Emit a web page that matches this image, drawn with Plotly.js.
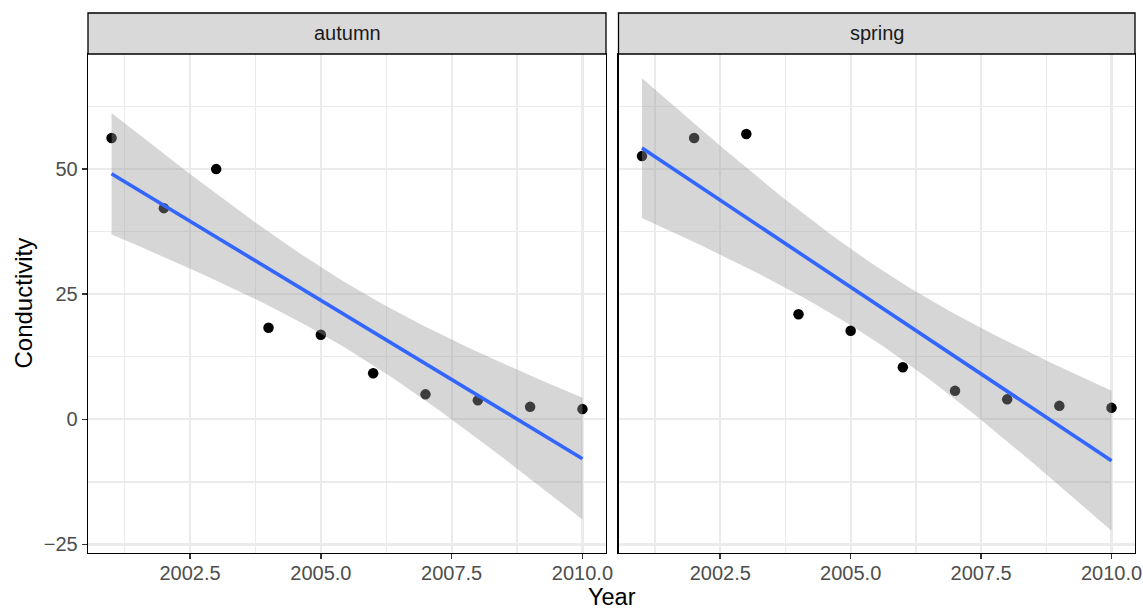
<!DOCTYPE html>
<html>
<head>
<meta charset="utf-8">
<script src="https://cdn.plot.ly/plotly-3.0.1.min.js"></script>
<style>html,body{margin:0;padding:0;background:#fff;}#chart{width:1143px;height:612px;}</style>
</head>
<body>
<div id="chart"></div>
<script>
// ---- data ----
const years = [2001, 2002, 2003, 2004, 2005, 2006, 2007, 2008, 2009, 2010];
const autumn = [56.2, 42.2, 50.0, 18.3, 16.9, 9.2, 5.0, 3.8, 2.5, 2.05];
const spring = [52.6, 56.2, 57.0, 21.0, 17.7, 10.4, 5.7, 4.0, 2.7, 2.3];
const seasons = ['autumn', 'spring'];
const xTickVals = [2002.5, 2005.0, 2007.5, 2010.0];
const xTickText = ['2002.5', '2005.0', '2007.5', '2010.0'];
const xMinorVals = [2001.25, 2003.75, 2006.25, 2008.75];
const yTickVals = [-25, 0, 25, 50];
const yTickText = ['\u221225', '0', '25', '50'];
const yMinorVals = [-12.5, 12.5, 37.5, 62.5];

// linear model fit with 95% confidence band (as geom_smooth(method = "lm"))
function lmFit(x, y, nOut) {
  const n = x.length;
  const mx = x.reduce((a, b) => a + b, 0) / n;
  const my = y.reduce((a, b) => a + b, 0) / n;
  let sxx = 0, sxy = 0;
  for (let i = 0; i < n; i++) { sxx += (x[i] - mx) ** 2; sxy += (x[i] - mx) * (y[i] - my); }
  const b = sxy / sxx, a = my - b * mx;
  let sse = 0;
  for (let i = 0; i < n; i++) sse += (y[i] - (a + b * x[i])) ** 2;
  const s = Math.sqrt(sse / (n - 2));
  const t = 2.306004; // qt(0.975, df = 8)
  const xs = [], fit = [], lo = [], hi = [];
  const x0 = Math.min(...x), x1 = Math.max(...x);
  for (let k = 0; k < nOut; k++) {
    const xv = x0 + (x1 - x0) * k / (nOut - 1);
    const f = a + b * xv;
    const se = s * Math.sqrt(1 / n + (xv - mx) ** 2 / sxx);
    xs.push(xv); fit.push(f); lo.push(f - t * se); hi.push(f + t * se);
  }
  return { xs, fit, lo, hi };
}

const seriesBySeason = { autumn: autumn, spring: spring };
const traces = [];
seasons.forEach((s, i) => {
  const xa = i === 0 ? 'x' : 'x2';
  const ya = i === 0 ? 'y' : 'y2';
  const vals = seriesBySeason[s];
  const m = lmFit(years, vals, 80);
  traces.push({
    type: 'scatter', mode: 'markers', x: years, y: vals, xaxis: xa, yaxis: ya,
    marker: { color: '#000000', size: 10.5 }, hoverinfo: 'x+y', showlegend: false
  });
  traces.push({
    type: 'scatter', mode: 'lines',
    x: m.xs.concat(m.xs.slice().reverse()),
    y: m.hi.concat(m.lo.slice().reverse()),
    fill: 'toself', fillcolor: 'rgba(153,153,153,0.4)',
    line: { width: 0 }, xaxis: xa, yaxis: ya, hoverinfo: 'skip', showlegend: false
  });
  traces.push({
    type: 'scatter', mode: 'lines', x: m.xs, y: m.fit, xaxis: xa, yaxis: ya,
    line: { color: '#3366FF', width: 3.6 }, hoverinfo: 'skip', showlegend: false
  });
});

const FONT = 'Liberation Sans, Arial, Helvetica, sans-serif';
const W = 1143, H = 612, ml = 88, mr = 8, mt = 54, mb = 59;
const pw = W - ml - mr, ph = H - mt - mb;
const dom1 = [0, (606 - ml) / pw];
const dom2 = [(618.5 - ml) / pw, 1];
const stripH = 41 / ph;

function xAxis(domain, anchor) {
  return {
    domain: domain, anchor: anchor, range: [2000.55, 2010.45],
    tickvals: xTickVals, ticktext: xTickText,
    ticks: 'outside', ticklen: 5, tickwidth: 1.6, tickcolor: '#333333',
    ticklabelstandoff: -3,
    tickfont: { family: FONT, size: 20, color: '#4D4D4D' },
    showgrid: true, gridcolor: '#EBEBEB', gridwidth: 2.1,
    minor: { tickvals: xMinorVals, showgrid: true, gridcolor: '#EBEBEB', gridwidth: 1.3, ticks: '' },
    zeroline: false, showline: true, mirror: true, linecolor: '#000000', linewidth: 1.3
  };
}
function yAxis(anchor, labels) {
  return {
    domain: [0, 1], anchor: anchor, range: [-26.7, 73.0],
    tickvals: yTickVals, ticktext: yTickText,
    ticks: labels ? 'outside' : '', ticklen: 5, tickwidth: 1.6, tickcolor: '#333333',
    showticklabels: labels,
    tickfont: { family: FONT, size: 20, color: '#4D4D4D' },
    showgrid: true, gridcolor: '#EBEBEB', gridwidth: 2.1,
    minor: { tickvals: yMinorVals, showgrid: true, gridcolor: '#EBEBEB', gridwidth: 1.3, ticks: '' },
    zeroline: false, showline: true, mirror: true, linecolor: '#000000', linewidth: 1.3
  };
}

const shapes = [dom1, dom2].map(d => ({
  type: 'rect', xref: 'paper', yref: 'paper', x0: d[0], x1: d[1], y0: 1, y1: 1 + stripH,
  fillcolor: '#D9D9D9', line: { color: '#000000', width: 1.3 }, layer: 'above'
}));

const annotations = seasons.map((s, i) => {
  const d = i === 0 ? dom1 : dom2;
  return {
    text: s, xref: 'paper', yref: 'paper', x: (d[0] + d[1]) / 2, y: 1 + stripH / 2,
    xanchor: 'center', yanchor: 'middle', showarrow: false,
    font: { family: FONT, size: 20, color: '#1A1A1A' }
  };
});
annotations.push({
  text: 'Year', xref: 'paper', yref: 'paper', x: 0.5, y: -(597 - (H - mb)) / ph,
  xanchor: 'center', yanchor: 'middle', showarrow: false,
  font: { family: FONT, size: 23.5, color: '#000000' }
});
annotations.push({
  text: 'Conductivity', xref: 'paper', yref: 'paper', x: (23 - ml) / pw, y: 0.5,
  xanchor: 'center', yanchor: 'middle', showarrow: false, textangle: -90,
  font: { family: FONT, size: 24, color: '#000000' }
});

const layout = {
  width: W, height: H,
  margin: { l: ml, r: mr, t: mt, b: mb, pad: 0 },
  paper_bgcolor: '#FFFFFF', plot_bgcolor: '#FFFFFF',
  showlegend: false,
  xaxis: xAxis(dom1, 'y'),
  xaxis2: xAxis(dom2, 'y2'),
  yaxis: yAxis('x', true),
  yaxis2: yAxis('x2', false),
  shapes: shapes,
  annotations: annotations,
  font: { family: FONT }
};

Plotly.newPlot('chart', traces, layout, { displayModeBar: false, staticPlot: true });
</script>
</body>
</html>
